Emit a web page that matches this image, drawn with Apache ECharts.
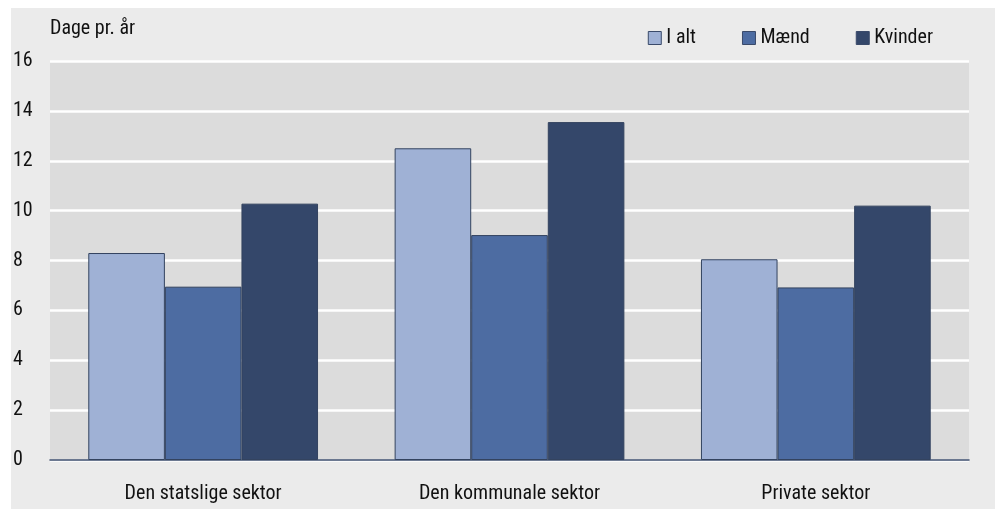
<!DOCTYPE html>
<html><head><meta charset="utf-8">
<script src="https://cdn.jsdelivr.net/npm/echarts@6/dist/echarts.min.js"></script>
<style>html,body{margin:0;padding:0;background:#fff}#c{width:998px;height:509px}</style>
</head><body><div id="c"></div>
<script>
const categories = ['Den statslige sektor', 'Den kommunale sektor', 'Private sektor'];
const seriesNames = ['I alt', 'Mænd', 'Kvinder'];
const iAlt = [8.3, 12.5, 8.05];
const maend = [6.95, 9.02, 6.92];
const kvinder = [10.28, 13.55, 10.2];
const yTicks = [0, 2, 4, 6, 8, 10, 12, 14, 16];
const colors = ['#9fb1d5', '#4d6ca2', '#34476a'];
const FONT = '"Roboto Condensed", "Liberation Sans Narrow", "Noto Sans", sans-serif';

const chart = echarts.init(document.getElementById('c'));
const values = [iAlt, maend, kvinder];
chart.setOption({
  backgroundColor: '#fff',
  animation: false,
  graphic: [{type: 'rect', shape: {x: 11, y: 8, width: 984, height: 501}, style: {fill: '#ebebeb'}, z: -10},
            {type: 'text', left: 50, top: 19, style: {text: 'Dage pr. år', font: '20px ' + FONT, fill: '#111'}}],
  legend: {
    top: 23, right: 60, itemWidth: 13, itemHeight: 13, itemGap: 46, icon: 'rect',
    textStyle: {fontFamily: FONT, fontSize: 20, color: '#111'},
    data: seriesNames.map((n, i) => ({name: n, itemStyle: {color: colors[i], borderColor: '#3a4a6a', borderWidth: 1}}))
  },
  grid: {left: 50, right: 29, top: 61, bottom: 49, backgroundColor: '#dcdcdc', show: true, borderWidth: 0},
  xAxis: {
    type: 'category', data: categories,
    axisLine: {lineStyle: {color: '#3d4d6d', width: 1.5}},
    axisTick: {show: false},
    axisLabel: {fontFamily: FONT, fontSize: 20, color: '#111', margin: 24}
  },
  yAxis: {
    type: 'value', min: 0, max: 16, interval: 2,
    axisLine: {show: false}, axisTick: {show: false},
    axisLabel: {fontFamily: FONT, fontSize: 20, color: '#111', align: 'left', margin: 37,
      formatter: v => yTicks.includes(v) ? String(v) : ''},
    splitLine: {lineStyle: {color: '#ffffff', width: 2.5}}
  },
  series: seriesNames.map((n, i) => ({
    name: n, type: 'bar', data: values[i],
    barGap: '0%', barCategoryGap: '25%',
    itemStyle: {color: colors[i], borderColor: '#33435f', borderWidth: 1}
  }))
});
</script></body></html>
